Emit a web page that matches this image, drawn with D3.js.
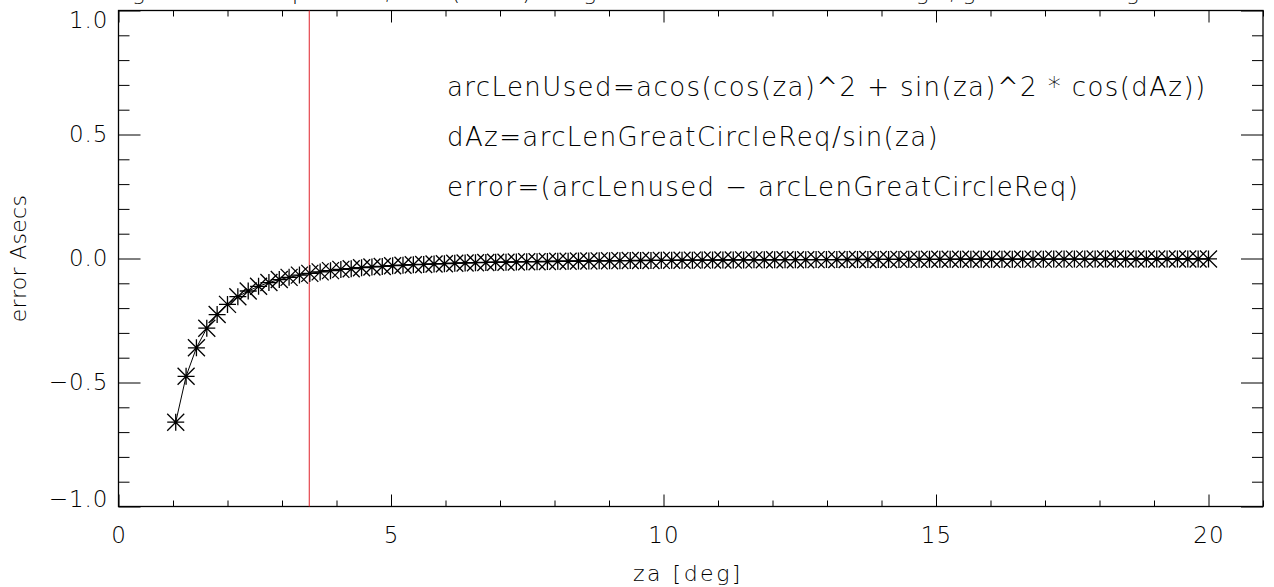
<!DOCTYPE html>
<meta charset="utf-8">
<head>
	<script type="text/javascript" src="https://cdn.jsdelivr.net/npm/d3@7"></script>
	<style>
		body { margin: 0; background: white; }
		text { font-family: "DejaVu Sans", sans-serif; font-weight: 200; fill: black; }
		.axis path { display: none; }
		.axis line { stroke: black; stroke-width: 1; }
		.axis text { font-size: 23px; letter-spacing: 1px; }
	</style>
</head>
<body>
	<svg id="chart" width="1274" height="587"></svg>
</body>
<script type="text/javascript">
	// zenith angle [deg]
	var za = [1.05,1.24,1.43,1.62,1.81,2.00,2.19,2.38,2.57,2.76,
		2.95,3.13,3.32,3.51,3.70,3.89,4.08,4.27,4.46,4.65,
		4.84,5.03,5.22,5.41,5.60,5.79,5.98,6.17,6.36,6.55,
		6.74,6.92,7.11,7.30,7.49,7.68,7.87,8.06,8.25,8.44,
		8.63,8.82,9.01,9.20,9.39,9.58,9.77,9.96,10.15,10.34,
		10.53,10.71,10.90,11.09,11.28,11.47,11.66,11.85,12.04,12.23,
		12.42,12.61,12.80,12.99,13.18,13.37,13.56,13.75,13.94,14.13,
		14.32,14.50,14.69,14.88,15.07,15.26,15.45,15.64,15.83,16.02,
		16.21,16.40,16.59,16.78,16.97,17.16,17.35,17.54,17.73,17.92,
		18.11,18.29,18.48,18.67,18.86,19.05,19.24,19.43,19.62,19.81,20.00];
	// error in arcsecs
	var errAsec = [-0.660,-0.475,-0.360,-0.281,-0.226,-0.185,-0.154,-0.131,-0.112,-0.097,
		-0.085,-0.076,-0.067,-0.060,-0.054,-0.049,-0.044,-0.041,-0.037,-0.034,
		-0.032,-0.029,-0.027,-0.025,-0.024,-0.022,-0.021,-0.019,-0.018,-0.017,
		-0.016,-0.015,-0.015,-0.014,-0.013,-0.013,-0.012,-0.011,-0.011,-0.010,
		-0.010,-0.0095,-0.0091,-0.0087,-0.0084,-0.0081,-0.0078,-0.0075,-0.0072,-0.0069,
		-0.0067,-0.0065,-0.0062,-0.0060,-0.0058,-0.0056,-0.0054,-0.0053,-0.0051,-0.0049,
		-0.0048,-0.0047,-0.0045,-0.0044,-0.0043,-0.0041,-0.0040,-0.0039,-0.0038,-0.0037,
		-0.0036,-0.0035,-0.0034,-0.0033,-0.0033,-0.0032,-0.0031,-0.0030,-0.0030,-0.0029,
		-0.0028,-0.0028,-0.0027,-0.0026,-0.0026,-0.0025,-0.0025,-0.0024,-0.0024,-0.0023,
		-0.0023,-0.0022,-0.0022,-0.0021,-0.0021,-0.0020,-0.0020,-0.0020,-0.0019,-0.0019,-0.0019];

	var xMajor = [0, 5, 10, 15, 20];
	var xMinor = [1,2,3,4,6,7,8,9,11,12,13,14,16,17,18,19,21];
	var yMajor = [-1.0, -0.5, 0.0, 0.5, 1.0];
	var yMinor = [-0.9,-0.8,-0.7,-0.6,-0.4,-0.3,-0.2,-0.1,0.1,0.2,0.3,0.4,0.6,0.7,0.8,0.9];
	var markerZa = 3.5;
	var notes = ["arcLenUsed=acos(cos(za)^2 + sin(za)^2 * cos(dAz))",
		"dAz=arcLenGreatCircleReq/sin(za)",
		"error=(arcLenused \u2212 arcLenGreatCircleReq)"];
	var title = "arcLen great circle req: 1 asec,  error(asecs) using small circle dAz vs zenith angle,  great circle length fixed";

	var svg = d3.select('#chart');
	svg.append('rect').attr('width', 1274).attr('height', 587).attr('fill', 'white');

	var pLeft = 118.5, pRight = 1263, pTop = 10.5, pBottom = 506.5;
	var x = d3.scaleLinear().domain([0, 21]).range([pLeft, pRight]);
	var y = d3.scaleLinear().domain([-1, 1]).range([pBottom, pTop]);

	// ticks point inward, on all four sides
	function addAxis(axis, tx, ty, cls) {
		return svg.append('g').attr('class', 'axis ' + cls)
			.attr('transform', 'translate(' + tx + ',' + ty + ')')
			.call(axis);
	}
	var fmt = d3.format('.1f');
	addAxis(d3.axisBottom(x).tickValues(xMajor).tickSize(-12).tickPadding(20).tickFormat(d3.format('d')), 0, pBottom, 'xb');
	addAxis(d3.axisBottom(x).tickValues(xMinor).tickSize(-6).tickFormat(''), 0, pBottom, 'xbm');
	addAxis(d3.axisTop(x).tickValues(xMajor).tickSize(-12).tickFormat(''), 0, pTop, 'xt');
	addAxis(d3.axisTop(x).tickValues(xMinor).tickSize(-6).tickFormat(''), 0, pTop, 'xtm');
	var yl = addAxis(d3.axisLeft(y).tickValues(yMajor).tickSize(-22).tickPadding(10)
		.tickFormat(function(d) { return fmt(d).replace('-', '\u2212'); }), pLeft, 0, 'yl');
	// end labels sit just inside the frame
	yl.selectAll('.tick text').attr('dy', function(d) {
		return d === 1 ? '0.75em' : (d === -1 ? '0' : '0.32em');
	});
	addAxis(d3.axisLeft(y).tickValues(yMinor).tickSize(-11).tickFormat(''), pLeft, 0, 'ylm');
	addAxis(d3.axisRight(y).tickValues(yMajor).tickSize(-22).tickFormat(''), pRight, 0, 'yr');
	addAxis(d3.axisRight(y).tickValues(yMinor).tickSize(-11).tickFormat(''), pRight, 0, 'yrm');

	svg.append('rect')
		.attr('x', pLeft).attr('y', pTop)
		.attr('width', pRight - pLeft).attr('height', pBottom - pTop)
		.attr('fill', 'none').attr('stroke', 'black').attr('stroke-width', 1.3);

	// red reference line
	svg.append('line')
		.attr('x1', x(markerZa)).attr('x2', x(markerZa))
		.attr('y1', pTop).attr('y2', pBottom)
		.attr('stroke', '#e0202a').attr('stroke-width', 1);

	var pts = za.map(function(d, i) { return [d, errAsec[i]]; });
	var line = d3.line().x(function(d) { return x(d[0]); }).y(function(d) { return y(d[1]); });
	svg.append('path').attr('d', line(pts))
		.attr('fill', 'none').attr('stroke', 'black').attr('stroke-width', 1);

	// IDL style asterisk markers
	var r = 8.5;
	var star = 'M' + (-r) + ',' + (-r) + 'L' + r + ',' + r + 'M' + (-r) + ',' + r + 'L' + r + ',' + (-r) +
		'M0,' + (-r) + 'L0,' + r + 'M' + (-r) + ',0L' + r + ',0';
	svg.append('g').selectAll('path').data(pts).enter().append('path')
		.attr('transform', function(d) { return 'translate(' + x(d[0]) + ',' + y(d[1]) + ')'; })
		.attr('d', star)
		.attr('fill', 'none').attr('stroke', 'black').attr('stroke-width', 1.3);

	svg.append('g').selectAll('text').data(notes).enter().append('text')
		.attr('x', 447)
		.attr('y', function(d, i) { return 96 + i * 50; })
		.style('font-size', '26px')
		.style('letter-spacing', '1.4px')
		.text(function(d) { return d; });

	svg.append('text')
		.attr('x', 688).attr('y', 581)
		.attr('text-anchor', 'middle').style('font-size', '22px').style('letter-spacing', '2.5px')
		.text('za [deg]');
	svg.append('text')
		.attr('transform', 'translate(26,' + y(0) + ') rotate(-90)')
		.attr('text-anchor', 'middle').style('font-size', '22px').style('letter-spacing', '0.3px')
		.text('error Asecs');

	// title runs off the top of the page
	svg.append('text')
		.attr('x', 637).attr('y', 0)
		.attr('text-anchor', 'middle').style('font-size', '22px')
		.text(title);
</script>
